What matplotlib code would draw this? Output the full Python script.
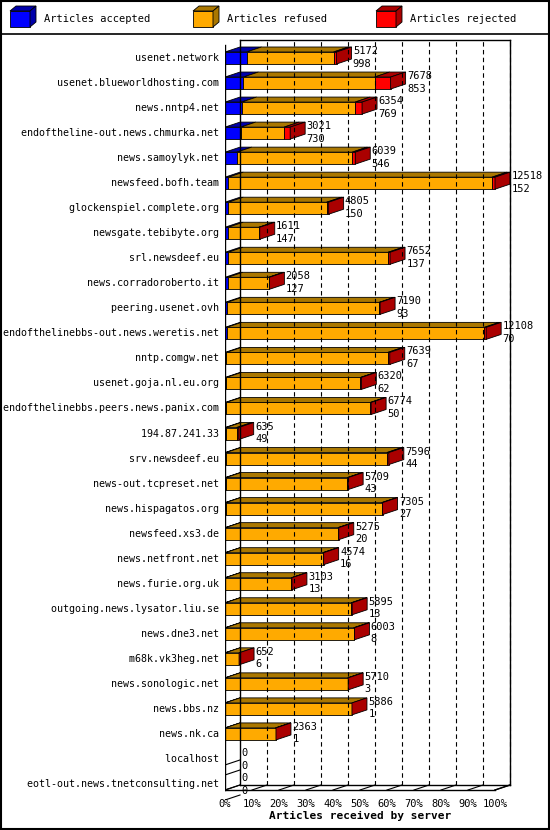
import matplotlib
matplotlib.use("Agg")
import matplotlib.pyplot as plt
from matplotlib.patches import Polygon, Rectangle

servers = [
    "usenet.network", "usenet.blueworldhosting.com", "news.nntp4.net",
    "endoftheline-out.news.chmurka.net", "news.samoylyk.net", "newsfeed.bofh.team",
    "glockenspiel.complete.org", "newsgate.tebibyte.org", "srl.newsdeef.eu",
    "news.corradoroberto.it", "peering.usenet.ovh", "endofthelinebbs-out.news.weretis.net",
    "nntp.comgw.net", "usenet.goja.nl.eu.org", "endofthelinebbs.peers.news.panix.com",
    "194.87.241.33", "srv.newsdeef.eu", "news-out.tcpreset.net", "news.hispagatos.org",
    "newsfeed.xs3.de", "news.netfront.net", "news.furie.org.uk",
    "outgoing.news.lysator.liu.se", "news.dne3.net", "m68k.vk3heg.net",
    "news.sonologic.net", "news.bbs.nz", "news.nk.ca", "localhost",
    "eotl-out.news.tnetconsulting.net",
]
offered = [5172, 7678, 6354, 3021, 6039, 12518, 4805, 1611, 7652, 2058, 7190, 12108,
           7639, 6320, 6774, 635, 7596, 5709, 7305, 5275, 4574, 3103, 5895, 6003,
           652, 5710, 5886, 2363, 0, 0]
accepted = [998, 853, 769, 730, 546, 152, 150, 147, 137, 127, 93, 70,
            67, 62, 50, 49, 44, 43, 27, 20, 16, 13, 13, 8, 6, 3, 1, 1, 0, 0]
rejected = [140, 740, 320, 280, 140, 140, 90, 40, 90, 40, 40, 90,
            90, 40, 40, 90, 90, 40, 40, 40, 40, 20, 40, 40, 0, 20, 0, 20, 0, 0]

C_ACC, C_REF, C_REJ = "#0000ff", "#ffaa00", "#ff0000"
D_ACC, D_REF, D_REJ = "#0000aa", "#aa7700", "#aa0000"

fig = plt.figure(figsize=(5.5, 8.3), dpi=100)
FONT = "DejaVu Sans Mono"

# pixel scale: 270 px for 12518 articles, axes from px 225 to 515
px_per_art = 270.0 / 12518
xmax = 290 / px_per_art
row_px = 25.03
ax = fig.add_axes([225 / 550, 1 - 800 / 830, 290 / 550, 764 / 830])
ax.set_xlim(0, xmax)
ax.set_ylim(29.0 + (800 - 784) / row_px, -(58 - 36) / row_px)
ax.axis("off")

DX = 15 / px_per_art
DY = 5 / row_px
H = 6 / row_px
floor = 29 + 6 / row_px
top = -(58 - 40) / row_px

# back wall, gridlines, floor
ax.plot([DX, DX], [floor - DY, top], color="black", lw=1)
ax.plot([0, 0], [floor, top + DY], color="black", lw=1)
ax.plot([DX * 0 + 12518 + DX, 12518 + DX], [floor - DY, top], color="black", lw=1)
ax.plot([DX, 12518 + DX], [top, top], color="black", lw=1)
for i in range(1, 11):
    xv = i * 1251.8 + DX
    ax.plot([xv, xv], [floor - DY, top], color="black", lw=0.8, ls=(0, (4, 3)))
ax.plot([0, 12518], [floor, floor], color="black", lw=1)
ax.plot([DX, 12518 + DX], [floor - DY, floor - DY], color="black", lw=1)
ax.plot([12518, 12518 + DX], [floor, floor - DY], color="black", lw=1)
for i in range(11):
    xv = i * 1251.8
    ax.plot([xv, xv + DX], [floor, floor - DY], color="black", lw=0.8)
    ax.text(xv, floor + 0.35, f"{i * 10}%", ha="center", va="top",
            family=FONT, fontsize=7.5)
ax.text(6259, floor + 0.85, "Articles received by server", ha="center", va="top",
        family=FONT, fontsize=8, weight="bold")


def box(x0, x1, y, face, dark):
    if x1 <= x0:
        return
    ax.add_patch(Polygon([(x0, y - H), (x0 + DX, y - H - DY), (x1 + DX, y - H - DY),
                          (x1, y - H)], fc=dark, ec="black", lw=0.6))
    ax.add_patch(Rectangle((x0, y - H), x1 - x0, 2 * H, fc=face, ec="black", lw=0.6))


for r, name in enumerate(servers):
    tot, acc, rej = offered[r], accepted[r], rejected[r]
    ref = tot - acc - rej
    ax.text(-0.0, r, name + " ", ha="right", va="center", family=FONT,
            fontsize=7.2, transform=ax.transData)
    if tot == 0:
        ax.plot([0, DX], [r + H, r + H - DY], color="black", lw=0.8)
        ax.plot([0, DX], [r + 0.5 + H - 0.1, r + 0.5 + H - DY - 0.1], color="black", lw=0.8)
        ax.text(DX + 60, r - 0.22, "0", va="center", family=FONT, fontsize=7.5)
        ax.text(DX + 60, r + 0.28, "0", va="center", family=FONT, fontsize=7.5)
        continue
    edges = [0, acc, acc + ref, tot]
    for (a, b), c, d in zip(zip(edges[:-1], edges[1:]), [C_ACC, C_REF, C_REJ],
                            [D_ACC, D_REF, D_REJ]):
        box(a, b, r, c, d)
    ax.add_patch(Polygon([(tot, r - H), (tot + DX, r - H - DY), (tot + DX, r + H - DY),
                          (tot, r + H)], fc=D_REJ, ec="black", lw=0.6))
    ax.text(tot + DX + 60, r - 0.28, str(tot), va="center", family=FONT, fontsize=7.5)
    ax.text(tot + DX + 60, r + 0.22, str(acc), va="center", family=FONT, fontsize=7.5)

# legend strip
lg = fig.add_axes([0, 1 - 33 / 830, 1, 33 / 830])
lg.set_xlim(0, 550)
lg.set_ylim(33, 0)
lg.axis("off")
for x0, label, c, d in [(10, "Articles accepted", C_ACC, D_ACC),
                        (193, "Articles refused", C_REF, D_REF),
                        (376, "Articles rejected", C_REJ, D_REJ)]:
    lg.add_patch(Rectangle((x0, 11), 20, 16, fc=c, ec="black", lw=0.6))
    lg.add_patch(Polygon([(x0, 11), (x0 + 6, 6), (x0 + 26, 6), (x0 + 20, 11)],
                         fc=d, ec="black", lw=0.6))
    lg.add_patch(Polygon([(x0 + 20, 11), (x0 + 26, 6), (x0 + 26, 22), (x0 + 20, 27)],
                         fc=d, ec="black", lw=0.6))
    lg.text(x0 + 34, 19, label, va="center", family=FONT, fontsize=7.5)

# frame and separator
fr = fig.add_axes([0, 0, 1, 1], facecolor="none")
fr.set_xlim(0, 550)
fr.set_ylim(830, 0)
fr.axis("off")
fr.add_patch(Rectangle((1, 1), 548, 828, fill=False, ec="black", lw=1.5))
fr.plot([1, 549], [34, 34], color="black", lw=1.2)

fig.savefig("out.png", dpi=100)
